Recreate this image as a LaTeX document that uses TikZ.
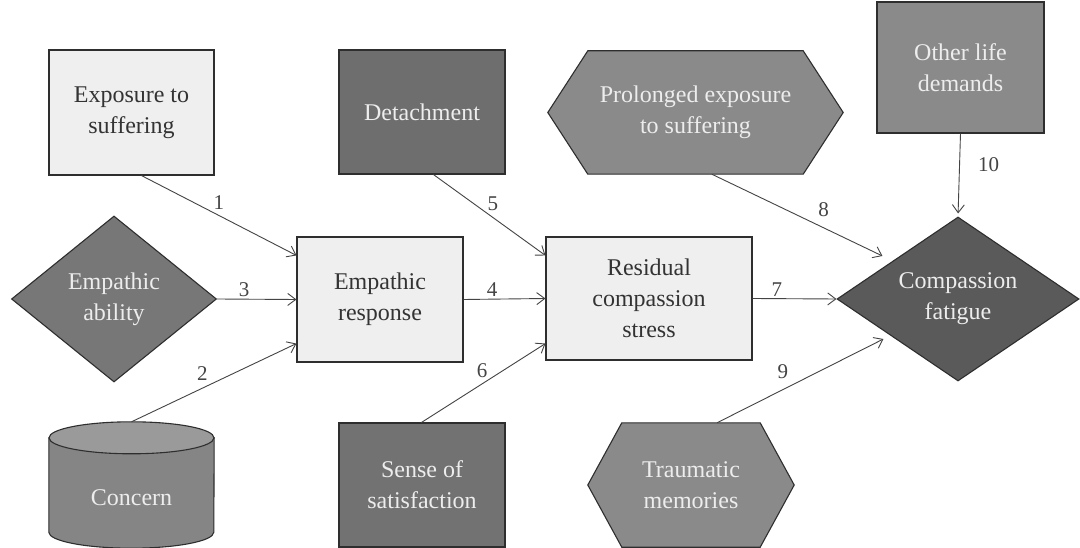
\documentclass[tikz,border=0pt]{standalone}
\usepackage{fontspec}
\setmainfont{Liberation Serif}
\usetikzlibrary{shapes.geometric,arrows.meta,calc,backgrounds}
\definecolor{lightfill}{HTML}{EFEFEF}
\definecolor{detfill}{HTML}{6E6E6E}
\definecolor{satfill}{HTML}{727272}
\definecolor{abilfill}{HTML}{777777}
\definecolor{fatfill}{HTML}{5A5A5A}
\definecolor{midfill}{HTML}{8A8A8A}
\definecolor{cylfill}{HTML}{858585}
\definecolor{cyltop}{HTML}{9A9A9A}
\definecolor{edge}{HTML}{2E2E2E}
\definecolor{darktext}{HTML}{333333}
\definecolor{lighttext}{HTML}{EDEDED}
\definecolor{arrowcol}{HTML}{444444}
\begin{document}
\begin{tikzpicture}[x=1pt,y=-1pt,
  box/.style={draw=edge, line width=1.1pt, align=center, inner sep=0pt,
    font=\fontsize{24}{31}\selectfont},
  lightbox/.style={box, fill=lightfill, text=darktext},
  darkbox/.style={box, text=lighttext},
  ghost/.style={align=center, inner sep=0pt, text=lighttext,
    font=\fontsize{24}{31}\selectfont},
  shapeline/.style={draw=edge, line width=1.1pt},
  conn/.style={draw=arrowcol, line width=0.9pt,
    -{Straight Barb[length=8pt,width=12pt,line width=0.9pt]}},
  lbl/.style={text=arrowcol, font=\fontsize{21}{24}\selectfont, inner sep=2pt}
]
\useasboundingbox (0,0) rectangle (1080,548);

% rectangles
\node[lightbox, minimum width=165pt, minimum height=125pt] (exp) at (131.5,112.5) {Exposure to\\suffering};
\node[lightbox, minimum width=166pt, minimum height=125pt] (resp) at (380,299.5) {Empathic\\response};
\node[lightbox, minimum width=206pt, minimum height=123pt] (resid) at (649,298.5) {Residual\\compassion\\stress};
\node[darkbox, fill=detfill, minimum width=166pt, minimum height=124pt] (det) at (422,112) {Detachment};
\node[darkbox, fill=satfill, minimum width=166pt, minimum height=124pt] (sense) at (422,485) {Sense of\\satisfaction};
\node[darkbox, fill=midfill, minimum width=167pt, minimum height=131pt] (life) at (960.5,67.5) {Other life\\demands};

% diamonds
\node[darkbox, diamond, fill=abilfill, aspect=1.23, minimum width=205pt, minimum height=166pt] (abil) at (114,299) {Empathic\\ability};
\node[darkbox, diamond, fill=fatfill, aspect=1.48, minimum width=242pt, minimum height=164pt] (fat) at (958,299) {Compassion\\fatigue};

% hexagons and cylinder (text nodes, shapes drawn behind)
\node[ghost, minimum width=295pt, minimum height=123pt] (prol) at (695.5,112.5) {Prolonged exposure\\to suffering};
\node[ghost, minimum width=206pt, minimum height=124pt] (trauma) at (691,485) {Traumatic\\memories};
\node[ghost, minimum width=165pt, minimum height=126pt] (concern) at (131.5,485) {\raisebox{-20pt}[0pt][0pt]{Concern}};

\begin{pgfonlayer}{background}
  \fill[white] (0,0) rectangle (1080,548);
  \path[shapeline, fill=midfill] (prol.west) -- ($(prol.north west)+(40,0)$) -- ($(prol.north east)+(-40,0)$)
    -- (prol.east) -- ($(prol.south east)+(-40,0)$) -- ($(prol.south west)+(40,0)$) -- cycle;
  \path[shapeline, fill=midfill] (trauma.west) -- ($(trauma.north west)+(34,0)$) -- ($(trauma.north east)+(-34,0)$)
    -- (trauma.east) -- ($(trauma.south east)+(-34,0)$) -- ($(trauma.south west)+(34,0)$) -- cycle;
  \path[shapeline, fill=cylfill] ($(concern.north west)+(0,16)$) -- ($(concern.south west)+(0,-16)$)
    arc[start angle=180, end angle=360, x radius=82.5pt, y radius=16pt]
    -- ($(concern.north east)+(0,16)$) -- cycle;
  \path[shapeline, fill=cyltop] ($(concern.north)+(0,16)$) ellipse[x radius=82.5pt, y radius=16pt];
\end{pgfonlayer}

% connectors
\draw[conn] ($(exp.south west)+(93,0)$) -- node[lbl, pos=0.5, above=4pt] {1} ($(resp.north west)+(0,19)$);
\draw[conn] (concern.north) -- node[lbl, pos=0.43, above=5pt] {2} ($(resp.south west)+(0,-19)$);
\draw[conn] (abil.east) -- node[lbl, pos=0.34, above] {3} (resp.west);
\draw[conn] (resp.east) -- node[lbl, pos=0.35, above] {4} (resid.west);
\draw[conn] ($(det.south west)+(95,0)$) -- node[lbl, pos=0.53, above=4pt] {5} ($(resid.north west)+(0,19)$);
\draw[conn] ($(sense.north west)+(83,0)$) -- node[lbl, pos=0.49, above=4pt] {6} ($(resid.south west)+(0,-17)$);
\draw[conn] (resid.east) -- node[lbl, pos=0.29, above] {7} (fat.west);
\draw[conn] ($(prol.south west)+(164,0)$) -- node[lbl, pos=0.655, above=9pt] {8} ($(fat.west)+(46,-43)$);
\draw[conn] ($(trauma.north)+(26,0)$) -- node[lbl, pos=0.395, above=9pt] {9} ($(fat.west)+(47,40)$);
\draw[conn, shorten >=3pt] (life.south) -- node[lbl, pos=0.375, right=16pt] {10} (fat.north);
\end{tikzpicture}
\end{document}
